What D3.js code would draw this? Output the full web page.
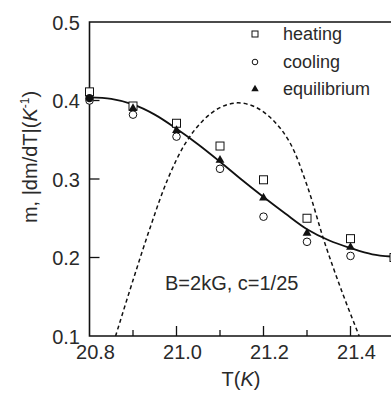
<!DOCTYPE html>
<html>
<head>
<meta charset="utf-8">
<script src="https://cdn.jsdelivr.net/npm/d3@7"></script>
<style>
  html, body { margin: 0; padding: 0; background: #fff; }
  svg { display: block; font-family: "Liberation Sans", Arial, Helvetica, sans-serif; }
</style>
</head>
<body>
<div id="chart"></div>
<script>
// Temperatures (K) of the measured points
const temps = [20.8, 20.9, 21.0, 21.1, 21.2, 21.3, 21.4, 21.5];
// Measured magnetisation slope for each sweep
const heating = [0.411, 0.393, 0.371, 0.342, 0.299, 0.250, 0.224, 0.200];
const cooling = [0.400, 0.382, 0.354, 0.313, 0.252, 0.220, 0.202, null];
const equilibrium = [0.403, 0.390, 0.362, 0.324, 0.276, 0.231, 0.213, null];

// Smooth fit through the equilibrium points
const fitT = [20.8, 20.85, 20.9, 20.95, 21.0, 21.05, 21.1, 21.15, 21.2, 21.25, 21.3, 21.35, 21.4, 21.45, 21.5, 21.55];
const fitM = [0.404, 0.402, 0.395, 0.382, 0.364, 0.344, 0.322, 0.299, 0.277, 0.256, 0.236, 0.222, 0.212, 0.204, 0.201, 0.200];

// |dm/dT| curve (dashed)
const derivT = [20.86, 20.90, 20.94, 20.98, 21.02, 21.06, 21.10, 21.14, 21.18, 21.22, 21.26, 21.30, 21.34, 21.38, 21.42];
const derivM = [0.100, 0.171, 0.239, 0.300, 0.345, 0.374, 0.391, 0.397, 0.392, 0.376, 0.347, 0.292, 0.220, 0.157, 0.100];

// Axis ticks
const xTickLabels = [20.8, 21.0, 21.2, 21.4];
const xMinorTicks = [20.9, 21.1, 21.3];
const yTicks = [0.1, 0.2, 0.3, 0.4, 0.5];

const legendItems = ["heating", "cooling", "equilibrium"];
const annotation = "B=2kG, c=1/25";

const W = 391, H = 393;
const plotLeft = 89.5, plotTop = 22, plotBottom = 336;

const x = d3.scaleLinear().domain([20.8, 21.6]).range([plotLeft, plotLeft + 435 * 0.8]);
const y = d3.scaleLinear().domain([0.1, 0.5]).range([plotBottom, plotTop]);

const svg = d3.select("#chart").append("svg")
  .attr("width", W).attr("height", H);

svg.append("clipPath").attr("id", "plotClip")
  .append("rect").attr("x", plotLeft).attr("y", plotTop)
  .attr("width", W - plotLeft).attr("height", plotBottom - plotTop);

const ink = "#111";
const textInk = "#2a2a2a";

// Frame: left, top and bottom spines
svg.append("path")
  .attr("d", `M${x(21.6)},${plotTop}H${plotLeft}V${plotBottom}H${x(21.6)}`)
  .attr("fill", "none").attr("stroke", ink).attr("stroke-width", 1.6);

// X ticks (inside), major and minor
svg.append("g").selectAll("line").data(xTickLabels.slice(1)).join("line")
  .attr("x1", d => x(d)).attr("x2", d => x(d))
  .attr("y1", plotBottom).attr("y2", plotBottom - 10)
  .attr("stroke", ink).attr("stroke-width", 1.3);
svg.append("g").selectAll("line").data(xMinorTicks).join("line")
  .attr("x1", d => x(d)).attr("x2", d => x(d))
  .attr("y1", plotBottom).attr("y2", plotBottom - 6)
  .attr("stroke", ink).attr("stroke-width", 1.3);
svg.append("g").selectAll("text").data(xTickLabels).join("text")
  .attr("x", d => x(d) + 6).attr("y", 359)
  .attr("text-anchor", "middle").attr("font-size", 20).attr("fill", textInk)
  .text(d => d.toFixed(1));

// Y ticks (inside)
svg.append("g").selectAll("line").data(yTicks.slice(1, 4)).join("line")
  .attr("x1", plotLeft).attr("x2", plotLeft + 10)
  .attr("y1", d => y(d)).attr("y2", d => y(d))
  .attr("stroke", ink).attr("stroke-width", 1.3);
svg.append("g").selectAll("text").data(yTicks).join("text")
  .attr("x", 80).attr("y", d => y(d) + 7.5)
  .attr("text-anchor", "end").attr("font-size", 20).attr("fill", textInk)
  .text(d => d.toFixed(1));

// Axis titles
const xt = svg.append("text").attr("x", 241).attr("y", 386)
  .attr("text-anchor", "middle").attr("font-size", 20).attr("fill", textInk);
xt.append("tspan").text("T(");
xt.append("tspan").attr("font-style", "italic").text("K");
xt.append("tspan").text(")");

const yt = svg.append("text")
  .attr("transform", "translate(37,157) rotate(-90)")
  .attr("text-anchor", "middle").attr("font-size", 20).attr("fill", textInk);
yt.append("tspan").text("m, |dm/dT|(");
yt.append("tspan").attr("font-style", "italic").text("K");
yt.append("tspan").attr("font-size", 12).attr("dy", -8).text("-1");
yt.append("tspan").attr("dy", 8).text(")");

const plot = svg.append("g").attr("clip-path", "url(#plotClip)");

// Dashed |dm/dT| curve
const derivPts = derivT.map((t, i) => [t, derivM[i]]);
plot.append("path")
  .attr("d", d3.line().x(d => x(d[0])).y(d => y(d[1])).curve(d3.curveCatmullRom)(derivPts))
  .attr("fill", "none").attr("stroke", ink).attr("stroke-width", 1.5)
  .attr("stroke-dasharray", "4,3");

// Solid fit curve
const fitPts = fitT.map((t, i) => [t, fitM[i]]);
plot.append("path")
  .attr("d", d3.line().x(d => x(d[0])).y(d => y(d[1])).curve(d3.curveCatmullRom)(fitPts))
  .attr("fill", "none").attr("stroke", ink).attr("stroke-width", 1.8);

// Heating: open squares
const sq = 8;
svg.append("g").selectAll("rect")
  .data(temps.map((t, i) => [t, heating[i]]).filter(d => d[1] != null)).join("rect")
  .attr("x", d => x(d[0]) - sq / 2).attr("y", d => y(d[1]) - sq / 2)
  .attr("width", sq).attr("height", sq)
  .attr("fill", "#fff").attr("stroke", ink).attr("stroke-width", 1);

// Cooling: open circles
svg.append("g").selectAll("circle")
  .data(temps.map((t, i) => [t, cooling[i]]).filter(d => d[1] != null)).join("circle")
  .attr("cx", d => x(d[0])).attr("cy", d => y(d[1])).attr("r", 3.8)
  .attr("fill", "#fff").attr("stroke", ink).attr("stroke-width", 1);

// Equilibrium: filled triangles (first point drawn as a filled dot)
const triangle = d3.symbol().type(d3.symbolTriangle).size(34);
const eqPts = temps.map((t, i) => [t, equilibrium[i]]).filter(d => d[1] != null);
svg.append("g").selectAll("path")
  .data(eqPts.slice(1)).join("path")
  .attr("transform", d => `translate(${x(d[0])},${y(d[1])})`)
  .attr("d", triangle).attr("fill", ink);
svg.append("circle")
  .attr("cx", x(eqPts[0][0])).attr("cy", y(eqPts[0][1])).attr("r", 4.2).attr("fill", ink);

// Legend
const lg = svg.append("g");
const rowY = [34, 62, 89];
lg.append("rect").attr("x", 255 - 3).attr("y", rowY[0] - 3).attr("width", 6).attr("height", 6)
  .attr("fill", "#fff").attr("stroke", ink).attr("stroke-width", 1);
lg.append("circle").attr("cx", 255).attr("cy", rowY[1]).attr("r", 2.8)
  .attr("fill", "#fff").attr("stroke", ink).attr("stroke-width", 1);
lg.append("path").attr("transform", `translate(255,${rowY[2]})`)
  .attr("d", d3.symbol().type(d3.symbolTriangle).size(24)).attr("fill", ink);
lg.selectAll("text").data(legendItems).join("text")
  .attr("x", 283).attr("y", (d, i) => rowY[i] + 6)
  .attr("font-size", 18).attr("fill", textInk)
  .text(d => d);

// Field and concentration note
svg.append("text").attr("x", 165).attr("y", 290)
  .attr("font-size", 20).attr("fill", textInk).text(annotation);
</script>
</body>
</html>
